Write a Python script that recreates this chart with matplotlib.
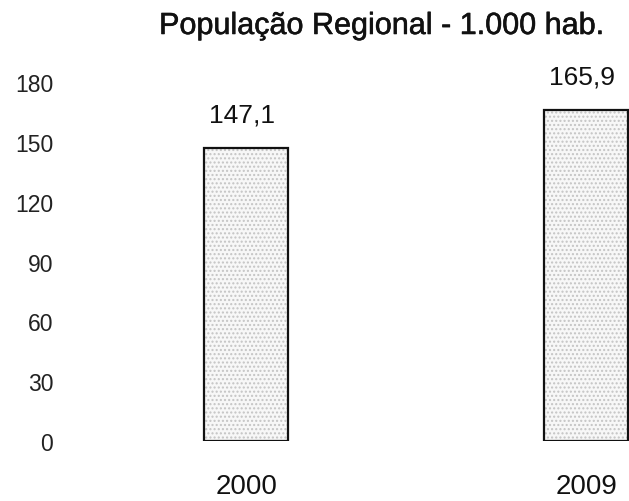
import numpy as np
import matplotlib
matplotlib.use('Agg')
import matplotlib.pyplot as plt
import matplotlib.patheffects as pe

plt.rcParams['font.family'] = ['Liberation Sans', 'DejaVu Sans']
plt.rcParams['hatch.linewidth'] = 1.0

# data
anos = ['2000', '2009']
populacao = [147.1, 165.9]
rotulos = ['147,1', '165,9']
yticks = [0, 30, 60, 90, 120, 150, 180]
titulo = 'População Regional - 1.000 hab.'

fig = plt.figure(figsize=(6.29, 5.02), dpi=100)
ax = fig.add_axes([70 / 629, 60 / 502, 559 / 629, 359 / 502])

x = np.arange(len(anos))
# texture fill
ax.bar(x, populacao, width=0.247, color='#f7f7f7', edgecolor='#c4c4c4',
       hatch='....', linewidth=0, zorder=2)
# outline
ax.bar(x, populacao, width=0.247, fill=False, edgecolor='#111111',
       linewidth=1.6, zorder=3)

for xi, v, lab in zip(x, populacao, rotulos):
    ax.annotate(lab, (xi, v), xytext=(-3, 24), textcoords='offset points',
                ha='center', va='center', fontsize=19, color='#111111')

ax.set_xlim(-0.518, 1.126)
ax.set_ylim(0, 180)
ax.set_yticks(yticks)
ax.set_yticklabels([str(t) for t in yticks], fontsize=16.5, color='#222222')
ax.set_xticks(x)
ax.set_xticklabels(anos, fontsize=20, color='#111111')
ax.tick_params(axis='y', length=0, pad=12)
ax.tick_params(axis='x', length=0, pad=23)
for s in ax.spines.values():
    s.set_visible(False)

fig.text(381 / 629, 1 - 27 / 502, titulo, ha='center', va='center',
         fontsize=22, color='#111111',
         path_effects=[pe.withStroke(linewidth=0.4, foreground='#111111')])

fig.savefig('out.png', dpi=100)
